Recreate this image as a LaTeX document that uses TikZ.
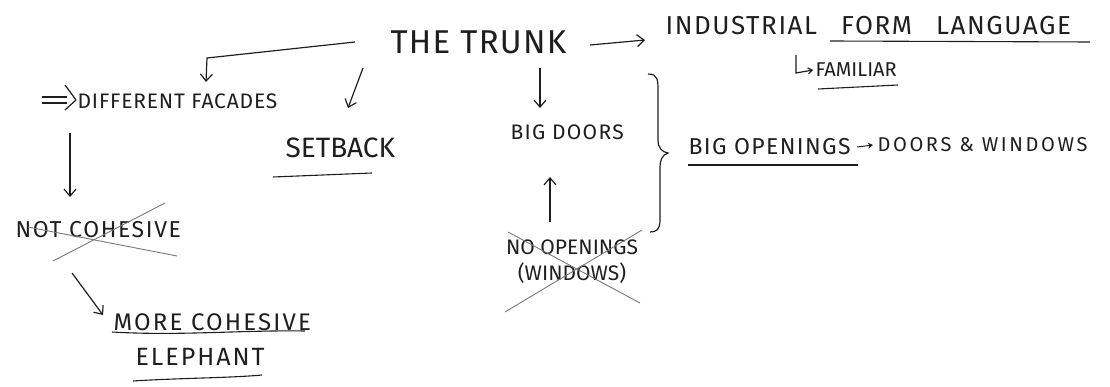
\documentclass[tikz,border=0pt]{standalone}
\usepackage{fontspec}
\setmainfont{Fira Sans}
\usetikzlibrary{arrows.meta}

\definecolor{ink}{RGB}{30,30,30}
\definecolor{crossink}{RGB}{120,120,120}

\tikzset{every picture/.style={line width=1.2pt}}
\tikzset{
  word/.style={inner sep=0pt, text=ink, align=center},
  link/.style={draw=ink, -{Straight Barb[length=7pt,width=12pt]}},
  uline/.style={draw=ink, line width=1.1pt},
  strike/.style={draw=crossink, line width=0.9pt}
}
\newcommand{\spaced}[2]{\addfontfeature{LetterSpace=#1}#2}

\begin{document}
\begin{tikzpicture}[x=1pt,y=1pt,yscale=-1,xscale=1]
\useasboundingbox (0,0) rectangle (1110,387);

% Text Node
\node[word, font=\fontsize{33}{36}\selectfont, anchor=west] (trunk) at (390,42) {\spaced{4}{THE TRUNK}};
% Text Node
\node[word, font=\fontsize{26}{30}\selectfont, anchor=west] (industrial) at (665,26) {\spaced{6}{INDUSTRIAL\hspace{24pt}FORM\hspace{24pt}LANGUAGE}};
% Text Node
\node[word, font=\fontsize{20}{24}\selectfont, anchor=west] (familiar) at (815,70) {FAMILIAR};
% Text Node
\node[word, font=\fontsize{21}{24}\selectfont, anchor=west] (facades) at (77,101) {\spaced{4}{DIFFERENT FACADES}};
% Text Node
\node[word, font=\fontsize{28}{32}\selectfont, anchor=west] (setback) at (285,148) {SETBACK};
% Text Node
\node[word, font=\fontsize{21}{24}\selectfont, anchor=west] (bigdoors) at (510,132) {\spaced{6}{BIG DOORS}};
% Text Node
\node[word, font=\fontsize{21}{26}\selectfont] (noopen) at (572,262) {NO OPENINGS\\(WINDOWS)};
% Text Node
\node[word, font=\fontsize{23}{26}\selectfont, anchor=west] (bigopen) at (688,147) {\spaced{6}{BIG OPENINGS}};
% Text Node
\node[word, font=\fontsize{20}{24}\selectfont, anchor=west] (doorswin) at (877,145) {\spaced{13}{DOORS \& WINDOWS}};
% Text Node
\node[word, font=\fontsize{23}{26}\selectfont, anchor=west] (notcoh) at (15,230) {\spaced{7}{NOT COHESIVE}};
% Text Node
\node[word, font=\fontsize{24}{28}\selectfont, anchor=west] (morecoh) at (113,322) {\spaced{9}{MORE COHESIVE}};
% Text Node
\node[word, font=\fontsize{25}{28}\selectfont, anchor=west] (elephant) at (135,357) {\spaced{8}{ELEPHANT}};

% arrow ends
\coordinate (trunkleft) at (355,42);
\coordinate (facadesbend) at (207,58);
\coordinate (facadestop) at (206,82);
\coordinate (trunkright) at (590,45);
\coordinate (industrialleft) at (645,40);
\coordinate (trunkmid) at (363,68);
\coordinate (setbacktop) at (348,108);
\coordinate (trunkfoot) at (540,68);
\coordinate (bigdoorstop) at (540,108);
\coordinate (noopentop) at (550,222);
\coordinate (bigdoorsfoot) at (550,177);
\coordinate (facadesfoot) at (70,133);
\coordinate (notcohtop) at (70,197);
\coordinate (notcohfoot) at (72,273);
\coordinate (morecohleft) at (103,315);
\coordinate (hook) at (796,55);
\coordinate (hookcorner) at (796,73);

% Connectors
\draw[link] (trunkleft) -- (facadesbend) -- (facadestop);
\draw[link] (trunkright) -- (industrialleft);
\draw[link] (trunkmid) -- (setbacktop);
\draw[link] (trunkfoot) -- (bigdoorstop);
\draw[link] (noopentop) -- (bigdoorsfoot);
\draw[link] (facadesfoot) -- (notcohtop);
\draw[link] (notcohfoot) -- (morecohleft);
\draw[draw=ink, -{Straight Barb[length=4pt,width=6pt]}] (hook) -- (hookcorner) -- ([xshift=-2pt]familiar.west);
\draw[draw=ink, line width=1pt, -{Stealth[length=5pt,width=6pt]}] ([xshift=6pt]bigopen.east) -- ([xshift=-4pt]doorswin.west);

% double arrow in front of the facades
\draw[draw=ink] (42,97) -- (67,97) (42,103) -- (67,103);
\draw[draw=ink, line join=round] (65,85) -- (76,100) -- (65,110);

% brace
\draw[draw=ink] (648,74) .. controls (658,74) and (658,80) .. (658,92) -- (658,140) .. controls (658,148) and (662,152) .. (668,153) .. controls (662,155) and (660,160) .. (660,168) -- (660,220) .. controls (660,230) and (656,232) .. (650,232);

% Underlines
\draw[uline] (830,41) -- (1090,42);
\draw[uline] (818,89) -- (898,85);
\draw[uline] (273,177) -- (372,173);
\draw[uline] (688,165) -- (858,165);
\draw[uline] (112,332) .. controls (180,336) and (240,330) .. (305,331);
\draw[uline] (133,381) .. controls (180,378) and (230,378) .. (262,375);

% crossed out words
\draw[strike] (28,227) -- (177,256);
\draw[strike] (53,261) -- (165,203);
\draw[strike] (508,232) -- (640,303);
\draw[strike] (505,312) -- (642,230);

\end{tikzpicture}
\end{document}
